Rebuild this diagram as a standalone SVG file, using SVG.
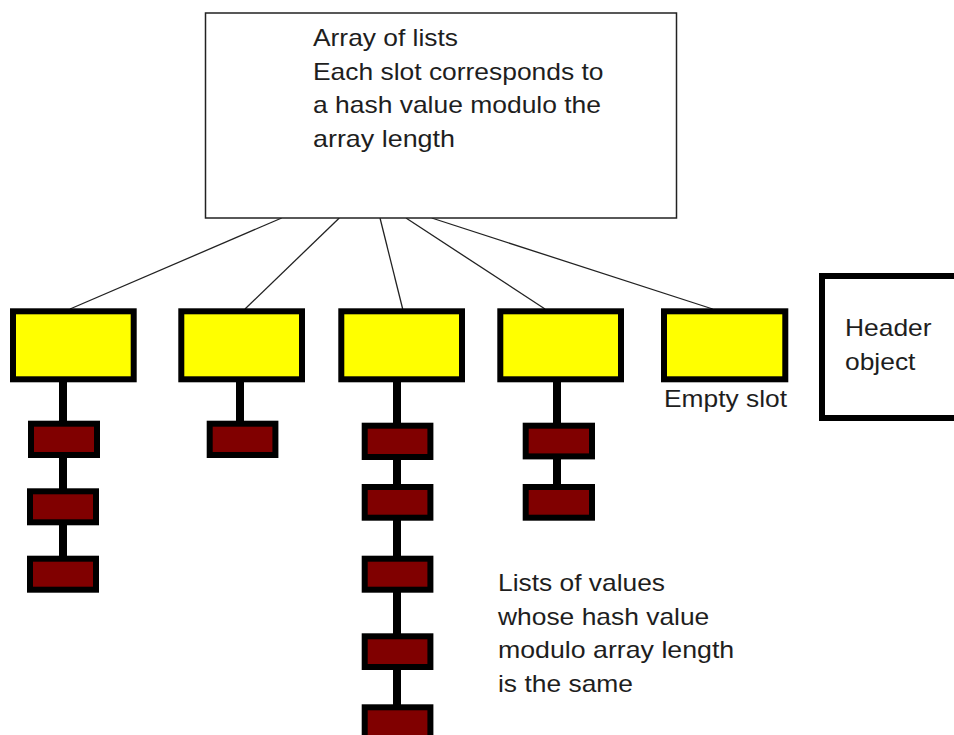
<svg xmlns="http://www.w3.org/2000/svg" width="954" height="735" viewBox="0 0 954 735">
<style>
  .txt { font-family: "Liberation Sans", Arial, Helvetica, sans-serif; font-size: 24px; fill: #1e1e1e; }
  .thin { stroke: #222; stroke-width: 1.3; fill: none; }
  .stem { stroke: #000; stroke-width: 8; fill: none; }
  .slot { fill: #ffff00; stroke: #000; stroke-width: 6; }
  .val { fill: #800000; stroke: #000; stroke-width: 6; }
</style>
<rect width="954" height="735" fill="#ffffff"/>

<g id="connectors">
  <line class="thin" x1="281.7" y1="218" x2="70" y2="309"/>
  <line class="thin" x1="339.3" y1="218" x2="245" y2="309"/>
  <line class="thin" x1="380" y1="218" x2="402.7" y2="309"/>
  <line class="thin" x1="406" y1="218" x2="545" y2="309"/>
  <line class="thin" x1="431.7" y1="218" x2="712.7" y2="309"/>
  <line class="stem" x1="63" y1="380" x2="63" y2="558"/>
  <line class="stem" x1="240" y1="380" x2="240" y2="423"/>
  <line class="stem" x1="397" y1="380" x2="397" y2="735"/>
  <line class="stem" x1="557" y1="380" x2="557" y2="486"/>
</g>

<g id="array-box">
  <rect x="205.5" y="13" width="471" height="205" fill="#ffffff" stroke="#222" stroke-width="1.5"/>
  <text class="txt" x="313" y="46" textLength="145" lengthAdjust="spacingAndGlyphs">Array of lists</text>
  <text class="txt" x="313" y="79.5" textLength="290.5" lengthAdjust="spacingAndGlyphs">Each slot corresponds to</text>
  <text class="txt" x="313" y="113" textLength="288" lengthAdjust="spacingAndGlyphs">a hash value modulo the</text>
  <text class="txt" x="313" y="146.5" textLength="142" lengthAdjust="spacingAndGlyphs">array length</text>
</g>

<g id="slot1"><rect class="slot" x="13" y="311.3" width="120.7" height="68"/></g>
<g id="slot2"><rect class="slot" x="181.3" y="311.3" width="120.7" height="68"/></g>
<g id="slot3"><rect class="slot" x="341.3" y="311.3" width="120.7" height="68"/></g>
<g id="slot4"><rect class="slot" x="500.3" y="311.3" width="120.7" height="68"/></g>
<g id="slot5">
  <rect class="slot" x="664" y="311.3" width="121.3" height="68"/>
  <text class="txt" x="664" y="407" textLength="123" lengthAdjust="spacingAndGlyphs">Empty slot</text>
</g>

<g id="header-object">
  <rect x="822" y="276" width="200" height="142" fill="#ffffff" stroke="#000" stroke-width="6"/>
  <text class="txt" x="845" y="336" textLength="86.6" lengthAdjust="spacingAndGlyphs">Header</text>
  <text class="txt" x="845" y="369.5" textLength="70.4" lengthAdjust="spacingAndGlyphs">object</text>
</g>

<g id="list1">
  <rect class="val" x="31" y="423.7" width="66" height="31.3"/>
  <rect class="val" x="30" y="491.3" width="66" height="31"/>
  <rect class="val" x="30" y="558.7" width="66" height="31"/>
</g>
<g id="list2">
  <rect class="val" x="209.7" y="423.7" width="65.7" height="31.3"/>
</g>
<g id="list3">
  <rect class="val" x="364.7" y="425.7" width="65.7" height="31.3"/>
  <rect class="val" x="364.7" y="487" width="65.7" height="30.7"/>
  <rect class="val" x="364.7" y="558.7" width="65.7" height="31"/>
  <rect class="val" x="364.7" y="636.3" width="65.7" height="30.7"/>
  <rect class="val" x="364.7" y="707.3" width="65.7" height="31"/>
</g>
<g id="list4">
  <rect class="val" x="525.7" y="425.7" width="66.3" height="30.7"/>
  <rect class="val" x="525.7" y="487" width="66.3" height="30.7"/>
</g>

<g id="lists-label">
  <text class="txt" x="498" y="591" textLength="167" lengthAdjust="spacingAndGlyphs">Lists of values</text>
  <text class="txt" x="498" y="624.5" textLength="211.3" lengthAdjust="spacingAndGlyphs">whose hash value</text>
  <text class="txt" x="498" y="658" textLength="236.2" lengthAdjust="spacingAndGlyphs">modulo array length</text>
  <text class="txt" x="498" y="691.5" textLength="135" lengthAdjust="spacingAndGlyphs">is the same</text>
</g>
</svg>
